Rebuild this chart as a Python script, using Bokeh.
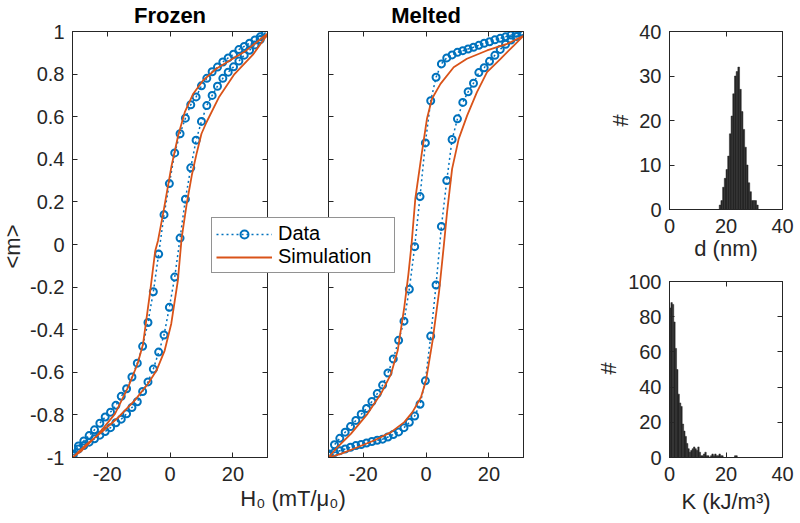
import math
from bokeh.plotting import figure
from bokeh.models import GridBox, LinearAxis, FixedTicker, Label, Legend, LegendItem, Range1d
from bokeh.embed import file_html
from bokeh.resources import INLINE

# ---------------- data ----------------
panel_titles = ["Frozen", "Melted"]
m_axis_title = "<m>"
h_axis_title = "H\u2080 (mT/\u03bc\u2080)"
count_axis_title = "#"
d_axis_title = "d (nm)"
k_axis_title = "K (kJ/m\u00b3)"
series_names = ["Data", "Simulation"]

# applied field of the measured points, H0 (mT/mu0)
h_field = [30.4, 28.7, 27.0, 25.3, 23.6, 21.9, 20.2, 18.5, 16.8, 15.1, 13.4, 11.7, 10.0,
           8.3, 6.6, 4.9, 3.2, 1.5, -0.2, -1.9, -3.6, -5.3, -7.0, -8.7, -10.4, -12.1,
           -13.8, -15.5, -17.2, -18.9, -20.6, -22.3, -24.0, -25.7, -27.4, -29.1, -30.8]

frozen_data_down = [0.995, 0.975, 0.96, 0.945, 0.93, 0.915, 0.893, 0.876, 0.857, 0.833, 0.811,
                    0.78, 0.745, 0.693, 0.656, 0.593, 0.52, 0.43, 0.286, 0.14, -0.045, -0.222,
                    -0.366, -0.478, -0.557, -0.622, -0.677, -0.713, -0.755, -0.787, -0.81,
                    -0.839, -0.87, -0.897, -0.922, -0.946, -0.983]
frozen_data_up = [0.993, 0.962, 0.937, 0.912, 0.889, 0.861, 0.834, 0.809, 0.78, 0.743, 0.70,
                  0.652, 0.578, 0.49, 0.36, 0.213, 0.03, -0.153, -0.295, -0.425, -0.505, -0.585,
                  -0.645, -0.69, -0.738, -0.765, -0.795, -0.82, -0.837, -0.86, -0.878, -0.895,
                  -0.912, -0.928, -0.944, -0.96, -0.99]
melted_data_down = [0.998, 0.992, 0.983, 0.975, 0.968, 0.961, 0.952, 0.945, 0.935, 0.926, 0.918,
                    0.91, 0.902, 0.89, 0.876, 0.848, 0.785, 0.675, 0.477, 0.225, -0.01, -0.21,
                    -0.36, -0.45, -0.537, -0.603, -0.66, -0.70, -0.737, -0.77, -0.797, -0.826,
                    -0.855, -0.881, -0.91, -0.94, -0.983]
melted_data_up = [0.997, 0.976, 0.96, 0.94, 0.916, 0.888, 0.86, 0.83, 0.807, 0.757, 0.717,
                  0.667, 0.59, 0.493, 0.30, 0.085, -0.19, -0.43, -0.64, -0.75, -0.805, -0.835,
                  -0.86, -0.88, -0.892, -0.904, -0.914, -0.919, -0.925, -0.932, -0.939, -0.944,
                  -0.952, -0.96, -0.968, -0.977, -0.99]

frozen_sim_down_h = [31.0, 29.5, 24.2, 19.0, 14.7, 10.5, 7.4, 4.7, 2.6, 0.5, -2.1, -3.8, -4.7,
                     -6.4, -8.6, -10.3, -13.3, -17.5, -22.7, -28.0, -31.0]
frozen_sim_down_m = [0.99, 0.973, 0.91, 0.864, 0.825, 0.77, 0.708, 0.621, 0.512, 0.37, 0.152,
                     0.019, -0.03, -0.232, -0.47, -0.56, -0.67, -0.795, -0.889, -0.967, -1.0]
frozen_sim_up_h = [-31.0, -27.0, -21.7, -16.4, -11.2, -7.0, -4.3, -1.7, 0.4, 2.5, 3.7, 5.3,
                   7.0, 8.5, 10.0, 11.6, 15.5, 20.5, 26.3, 30.0, 31.0]
frozen_sim_up_m = [-1.0, -0.944, -0.881, -0.811, -0.732, -0.654, -0.592, -0.498, -0.372,
                   -0.169, 0.03, 0.19, 0.33, 0.43, 0.52, 0.574, 0.69, 0.80, 0.89, 0.966, 0.985]

melted_sim_down_h = [31.0, 25.8, 19.4, 13.0, 8.8, 4.6, 1.9, 0.3, -1.3, -3.4, -4.6, -5.6, -6.9,
                     -9.0, -11.1, -14.3, -18.6, -23.9, -28.2, -31.0]
melted_sim_down_m = [0.98, 0.942, 0.911, 0.872, 0.832, 0.754, 0.684, 0.59, 0.433, 0.215, 0.0,
                     -0.14, -0.294, -0.498, -0.607, -0.70, -0.795, -0.889, -0.952, -1.0]
melted_sim_up_h = [-31.0, -27.1, -21.8, -16.5, -11.1, -6.9, -4.3, -1.6, 0.0, 2.1, 4.2, 5.7,
                   6.7, 8.3, 10.4, 13.1, 16.2, 19.4, 23.7, 27.9, 31.0]
melted_sim_up_m = [-1.0, -0.983, -0.952, -0.92, -0.881, -0.834, -0.787, -0.717, -0.638, -0.451,
                   -0.216, 0.0, 0.152, 0.355, 0.496, 0.606, 0.715, 0.809, 0.872, 0.934, 0.98]

m_ticks = [-1, -0.8, -0.6, -0.4, -0.2, 0, 0.2, 0.4, 0.6, 0.8, 1]
m_tick_labels = ["-1", "-0.8", "-0.6", "-0.4", "-0.2", "0", "0.2", "0.4", "0.6", "0.8", "1"]
h_ticks = [-20, 0, 20]
h_tick_labels = ["-20", "0", "20"]

d_bin_width = 0.6
d_centers = [17.9, 18.5, 19.1, 19.7, 20.3, 20.9, 21.5, 22.1, 22.7, 23.3, 23.9, 24.5, 25.1,
             25.7, 26.3, 26.9, 27.5, 28.1, 28.7, 29.3, 29.9, 30.5, 31.1]
d_counts = [1, 2, 5, 7, 9, 12, 17, 21, 26, 30, 31, 32, 27, 22, 18, 14, 10, 6, 4, 2, 2, 2, 1]

k_bin_width = 0.5
k_centers = [0.25, 0.75, 1.25, 1.75, 2.25, 2.75, 3.25, 3.75, 4.25, 4.75, 5.25, 5.75, 6.25,
             6.75, 7.25, 7.75, 8.25, 8.75, 9.25, 9.75, 10.25, 10.75, 11.25, 11.75, 12.25,
             12.75, 13.25, 13.75, 14.75, 15.25, 15.75, 16.25, 16.75, 17.25, 17.75, 18.25,
             18.75, 23.25, 23.75]
k_counts = [85, 88, 87, 77, 62, 50, 36, 31, 29, 19, 15, 12, 8, 5, 3, 4, 5, 6, 5, 4, 6, 3, 1,
            1, 2, 3, 1, 1, 1, 2, 1, 2, 1, 1, 2, 1, 1, 1, 1]

hist_x_ticks = [0, 20, 40]
hist_x_tick_labels = ["0", "20", "40"]
d_count_ticks = [0, 10, 20, 30, 40]
d_count_tick_labels = ["0", "10", "20", "30", "40"]
k_count_ticks = [0, 20, 40, 60, 80, 100]
k_count_tick_labels = ["0", "20", "40", "60", "80", "100"]

# ---------------- styling / layout ----------------
PW, PH = 800, 523
FONT = "Liberation Sans"
AX = "#262626"
BLUE = "#0072BD"
ORANGE = "#D95319"
HIST = "#262626"
FS = "20px"
FS_LABEL = "22px"


def make_panel(frame, xr, yr):
    left, top, fw, fh = frame
    p = figure(frame_width=fw, frame_height=fh, x_range=Range1d(*xr), y_range=Range1d(*yr),
               output_backend="svg", toolbar_location=None,
               min_border_left=left, min_border_top=top,
               min_border_right=PW - left - fw, min_border_bottom=PH - top - fh,
               background_fill_color=None, border_fill_color=None,
               outline_line_color=AX, outline_line_width=1, frame_align=False)
    p.xgrid.visible = False
    p.ygrid.visible = False
    return p


def style_axis(ax, ticks, labels, show, standoff):
    ax.ticker = FixedTicker(ticks=ticks)
    ax.major_tick_in = 5
    ax.major_tick_out = 0
    ax.minor_tick_line_color = None
    ax.axis_line_color = AX
    ax.major_tick_line_color = AX
    if show:
        ax.major_label_overrides = dict(zip(ticks, labels))
        ax.major_label_text_font = FONT
        ax.major_label_text_font_size = FS
        ax.major_label_text_color = AX
        ax.major_label_standoff = standoff
    else:
        ax.major_label_text_color = None
        ax.major_label_standoff = 0


def setup_axes(p, xt, xl, yt, yl, show_y=True):
    bottom = p.below[0]
    left = p.left[0]
    top = LinearAxis()
    right = LinearAxis()
    p.add_layout(top, "above")
    p.add_layout(right, "right")
    style_axis(bottom, xt, xl, True, 9)
    style_axis(left, yt, yl, show_y, 8)
    style_axis(top, xt, xl, False, 0)
    style_axis(right, yt, yl, False, 0)


def loop(down, up):
    return h_field + h_field[::-1], down + up[::-1]


def draw_hysteresis(p, down, up, sdh, sdm, suh, sum_, visible=True):
    hx, my = loop(down, up)
    dl = p.line(hx, my, line_color=BLUE, line_width=1.5, line_dash="2 3", visible=visible)
    ds = p.scatter(hx, my, marker="circle", size=7, line_color=BLUE, line_width=2,
                   fill_color=None, visible=visible)
    sl = p.line(sdh + suh, sdm + sum_, line_color=ORANGE, line_width=1.8, visible=visible)
    return dl, ds, sl


def hysteresis(frame, down, up, sdh, sdm, suh, sum_, show_y):
    p = make_panel(frame, (-31, 31), (-1, 1))
    setup_axes(p, h_ticks, h_tick_labels, m_ticks, m_tick_labels, show_y)
    draw_hysteresis(p, down, up, sdh, sdm, suh, sum_)
    return p


def histogram(frame, yr, centers, counts, width, yt, yl):
    p = make_panel(frame, (0, 40), yr)
    setup_axes(p, hist_x_ticks, hist_x_tick_labels, yt, yl)
    p.vbar(x=centers, top=counts, width=width, bottom=0,
           fill_color=HIST, line_color=HIST, line_width=0.5)
    return p


# frames: (left, top, width, height) in page pixels
frozen = hysteresis((72, 31, 195, 426), frozen_data_down, frozen_data_up,
                    frozen_sim_down_h, frozen_sim_down_m, frozen_sim_up_h, frozen_sim_up_m, True)
melted = hysteresis((328, 31, 195, 426), melted_data_down, melted_data_up,
                    melted_sim_down_h, melted_sim_down_m, melted_sim_up_h, melted_sim_up_m, False)
hist_d = histogram((669, 31, 113, 178), (0, 40), d_centers, d_counts, d_bin_width,
                   d_count_ticks, d_count_tick_labels)
hist_k = histogram((669, 281, 113, 176), (0, 100), k_centers, k_counts, k_bin_width,
                   k_count_ticks, k_count_tick_labels)

# ---- transparent overlay for titles, axis titles and the shared legend ----
overlay = figure(frame_width=PW, frame_height=PH, min_border=0,
                 x_range=Range1d(0, PW), y_range=Range1d(PH, 0),
                 x_axis_type=None, y_axis_type=None, output_backend="svg",
                 toolbar_location=None, background_fill_color=None, border_fill_color=None,
                 outline_line_color=None, frame_align=False)
overlay.xgrid.visible = False
overlay.ygrid.visible = False


def text_label(x, y, text, size=FS_LABEL, angle=0.0, bold=False, color=AX):
    overlay.add_layout(Label(x=x, y=y, text=text, angle=angle, text_align="center",
                             text_baseline="middle", text_font=FONT, text_font_size=size,
                             text_color=color,
                             text_font_style="bold" if bold else "normal"))


text_label(169.5, 15, panel_titles[0], bold=True, color="black")
text_label(425.5, 15, panel_titles[1], bold=True, color="black")
text_label(12, 246, m_axis_title, angle=math.pi / 2)
text_label(292.5, 498, h_axis_title)
text_label(620, 120, count_axis_title, angle=math.pi / 2)
text_label(725.5, 248, d_axis_title)
text_label(608, 368, count_axis_title, angle=math.pi / 2)
text_label(725.5, 501, k_axis_title)

# legend specimens: hidden copies of the melted-panel series (not drawn on the overlay)
leg_line, leg_dot, leg_sim = draw_hysteresis(overlay, melted_data_down, melted_data_up,
                                             melted_sim_down_h, melted_sim_down_m,
                                             melted_sim_up_h, melted_sim_up_m, visible=False)
legend = Legend(items=[LegendItem(label=series_names[0], renderers=[leg_line, leg_dot]),
                       LegendItem(label=series_names[1], renderers=[leg_sim])],
                location=(211, PH - 273), label_text_font=FONT, label_text_font_size="20px",
                label_text_color="black", border_line_color=AX, border_line_width=1,
                background_fill_color="white", background_fill_alpha=1.0,
                inactive_fill_alpha=0.0, padding=4, spacing=0, margin=0,
                glyph_width=56, glyph_height=20, label_height=20, label_width=112,
                label_standoff=6)
overlay.add_layout(legend)

layout = GridBox(children=[(frozen, 0, 0), (melted, 0, 0), (hist_d, 0, 0), (hist_k, 0, 0),
                           (overlay, 0, 0)])

open("out.html", "w").write(file_html(layout, INLINE, title="Hysteresis"))
